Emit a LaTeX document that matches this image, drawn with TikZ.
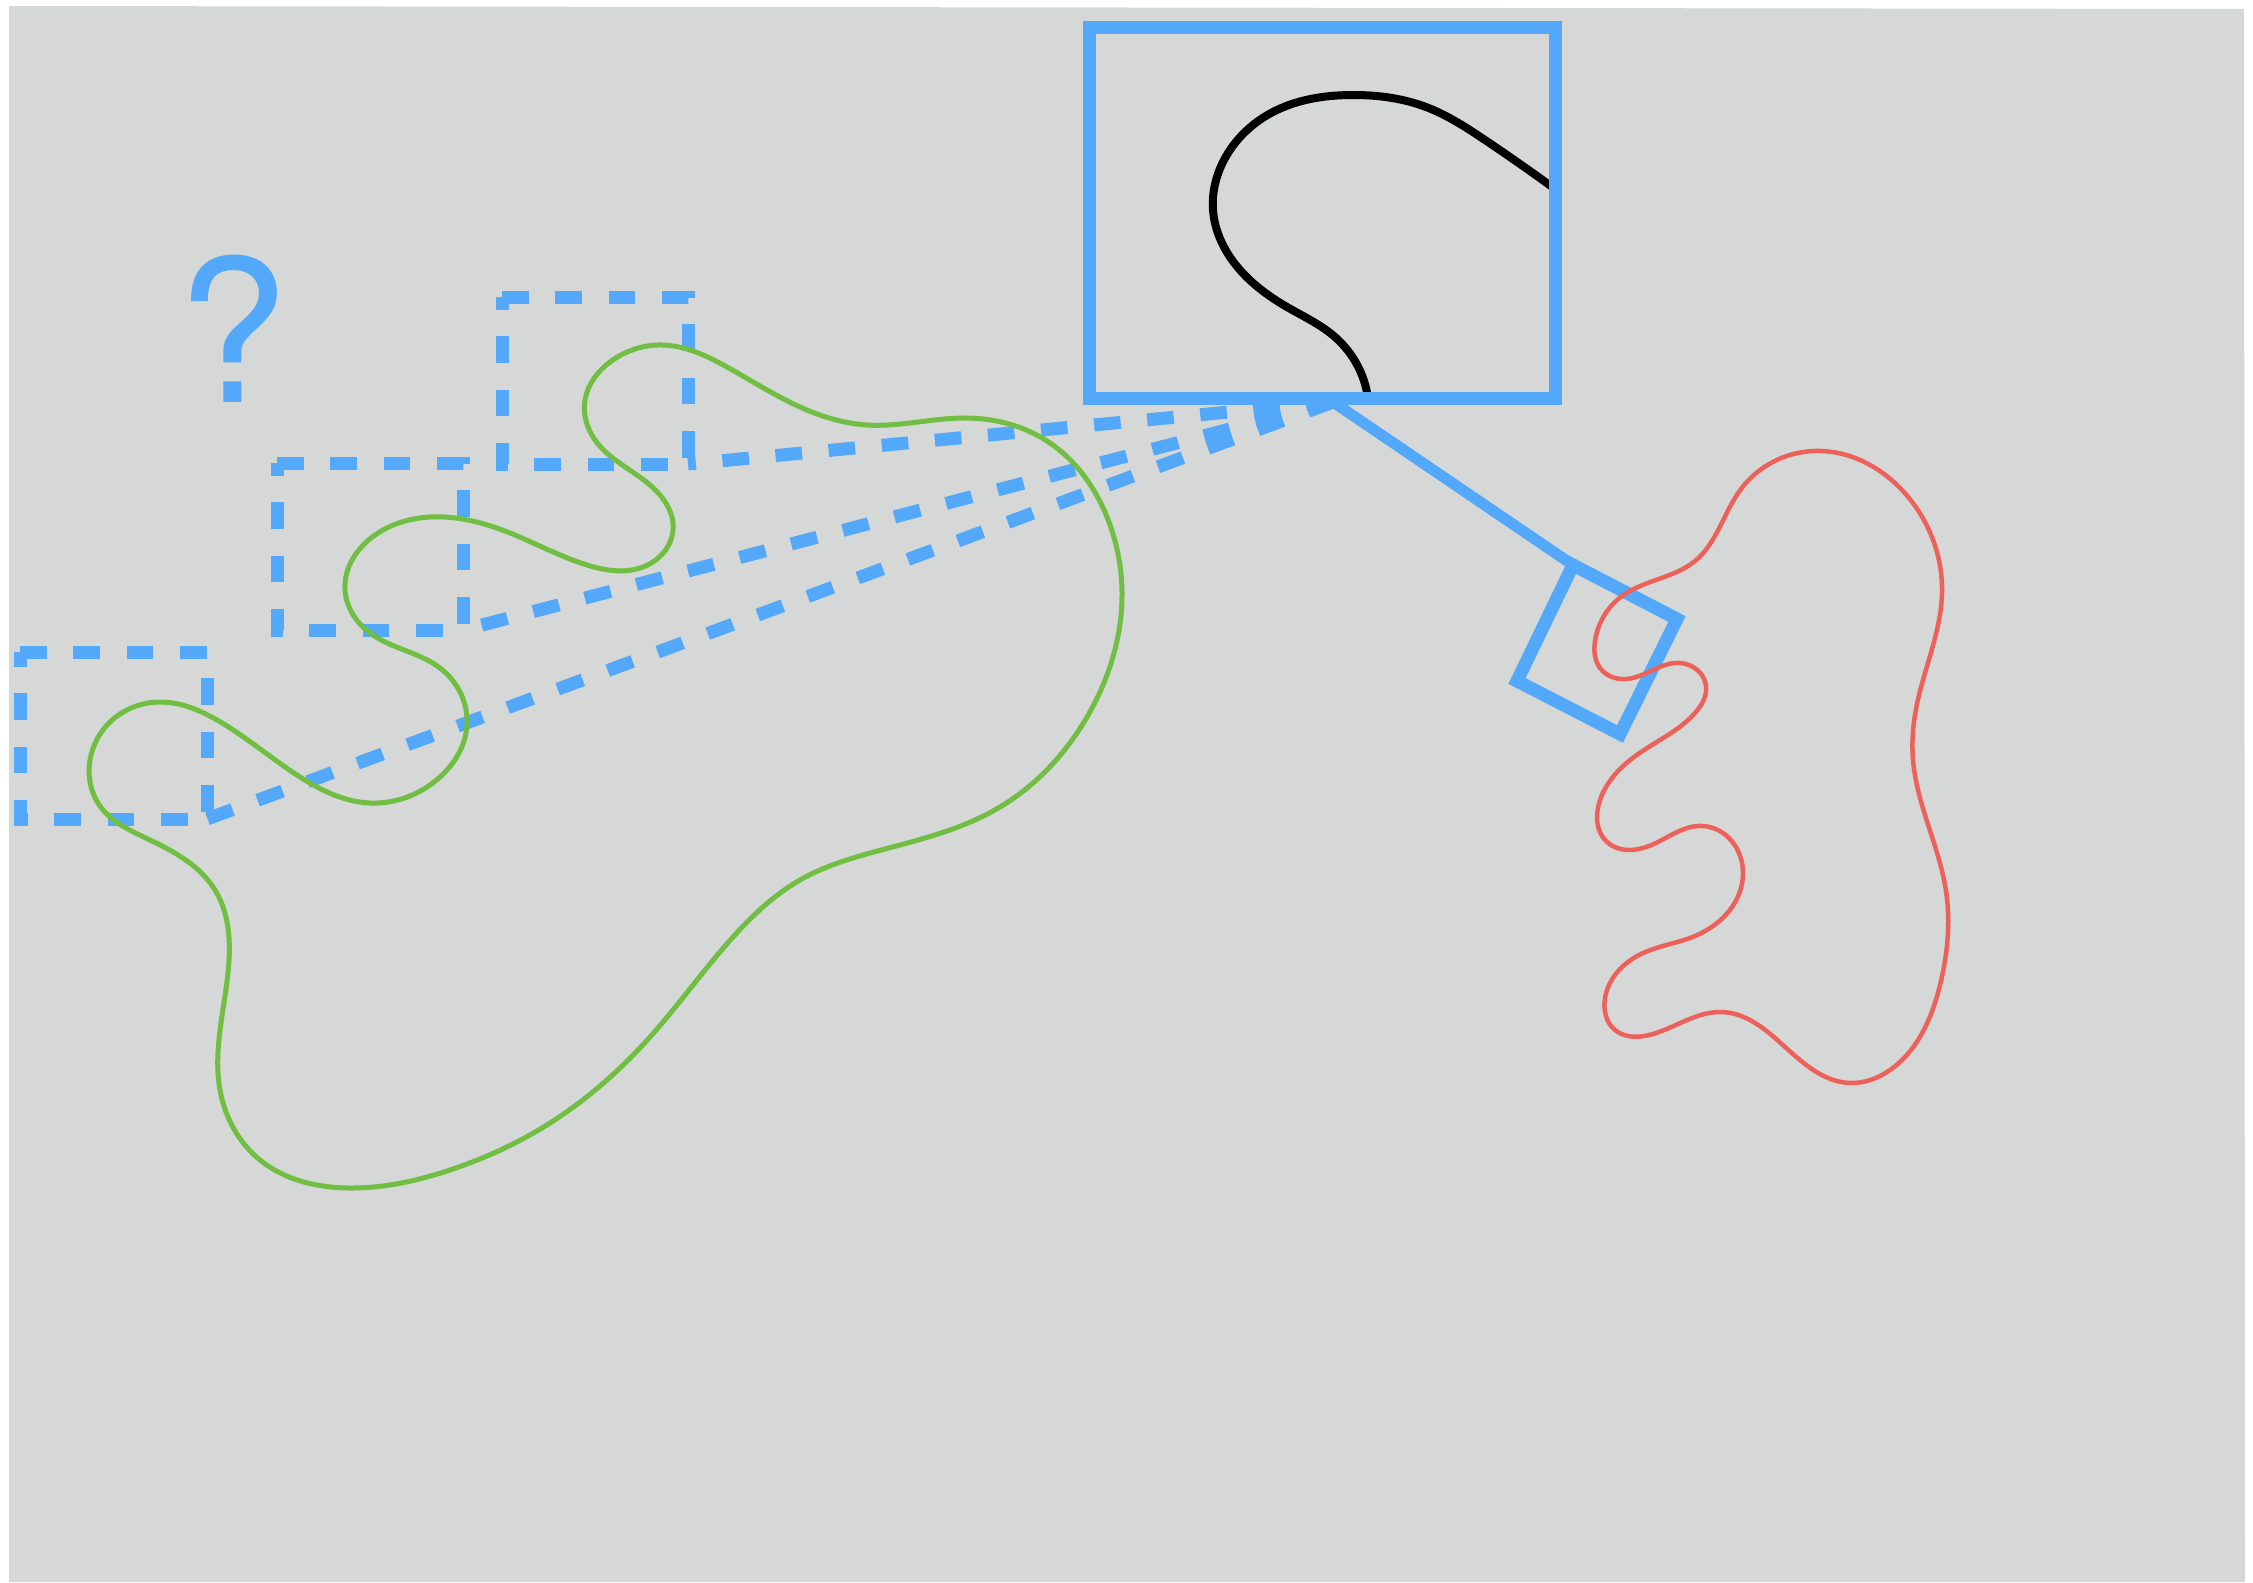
\documentclass[tikz,border=0pt]{standalone}
\usepackage{fontspec}
\setmainfont{TeX Gyre Heros}
\usetikzlibrary{hobby}
\definecolor{bggray}{RGB}{214,216,215}
\definecolor{zblue}{RGB}{84,168,250}
\definecolor{zgreen}{RGB}{112,190,66}
\definecolor{zred}{RGB}{236,98,90}
\begin{document}
\begin{tikzpicture}[x=1pt,y=-1pt,
  dashbox/.style={draw=zblue, line width=13pt, dash pattern=on 26.67pt off 26.67pt},
  viewbox/.style={draw=zblue, line width=13pt},
  connector/.style={draw=zblue, line width=11pt},
  greenblob/.style={draw=zgreen, line width=5pt},
  redblob/.style={draw=zred, line width=4.5pt},
  inkcurve/.style={draw=black, line width=8pt}]
\useasboundingbox (0,0) rectangle (2253,1582);
\fill[bggray] (9,6) -- (2244,9) -- (2245,1582) -- (9,1582) -- cycle;

% named points
\coordinate (apex) at (1333,402);
\coordinate (r1tl) at (502,297); \coordinate (r1tr) at (688,297);
\coordinate (r1br) at (688,464); \coordinate (r1bl) at (502,464);
\coordinate (r2tl) at (277,463); \coordinate (r2tr) at (463,463);
\coordinate (r2br) at (463,630); \coordinate (r2bl) at (277,630);
\coordinate (r3tl) at (20,652);  \coordinate (r3tr) at (207,652);
\coordinate (r3br) at (207,819); \coordinate (r3bl) at (20,819);
\coordinate (s1) at (1573,565); \coordinate (s2) at (1677,619);
\coordinate (s3) at (1620,734); \coordinate (s4) at (1517,681);

% dashed trail boxes and rays
\draw[dashbox] (r1tl) -- (r1tr) -- (r1br) -- (r1bl) -- (r1tl);
\draw[dashbox] (r2tl) -- (r2tr) -- (r2br) -- (r2bl) -- (r2tl);
\draw[dashbox] (r3tl) -- (r3tr) -- (r3br) -- (r3bl) -- (r3tl);
\draw[dashbox] (apex) -- (r1br);
\draw[dashbox] (apex) -- (r2br);
\draw[dashbox] (apex) -- (r3br);

% green blob
\draw[greenblob, use Hobby shortcut, closed=true]
(663,345) .. (727,367) .. (800,407) .. (867,425) .. (967,418) .. (1050,443)
.. (1107,517) .. (1122,592) .. (1087,717) .. (1000,807) .. (900,845)
.. (800,880) .. (733,937) .. (650,1037) .. (550,1123) .. (450,1170)
.. (350,1188) .. (260,1160) .. (220,1090) .. (228,973) .. (215,890)
.. (150,840) .. (100,806) .. (90,760) .. (110,722) .. (160,702)
.. (217,720) .. (300,777) .. (370,803) .. (440,777) .. (467,725)
.. (440,668) .. (370,633) .. (345,590) .. (375,535) .. (430,517)
.. (510,533) .. (587,565) .. (643,567) .. (673,530) .. (650,485)
.. (595,440) .. (585,400) .. (610,362);

% zoomed view
\draw[inkcurve, use Hobby shortcut]
(1368,398) .. (1335,337) .. (1287,307) .. (1240,270) .. (1213,210)
.. (1224,160) .. (1271,113) .. (1354,95) .. (1426,107) .. (1485,140) .. (1555,189);
\draw[viewbox] (1089,27) rectangle (1555,398);

% connector and lens
\draw[connector] (apex) -- (s1);
\draw[viewbox] (s1) -- (s2) -- (s3) -- (s4) -- cycle;

% red blob
\draw[redblob, use Hobby shortcut, closed=true]
(1595,641) .. (1622,596) .. (1695,561) .. (1741,489) .. (1814,451)
.. (1909,498) .. (1942,592) .. (1917,704) .. (1913,760) .. (1946,891)
.. (1940,985) .. (1890,1070) .. (1850,1083) .. (1775,1038) .. (1722,1012)
.. (1653,1034) .. (1615,1030) .. (1605,998) .. (1641,954) .. (1695,936)
.. (1743,873) .. (1703,826) .. (1649,846) .. (1607,842) .. (1600,800)
.. (1634,757) .. (1695,713) .. (1706,686) .. (1680,663) .. (1626,679)
.. (1600,668);

% question mark
\node[text=zblue, font=\fontsize{199}{199}\selectfont, anchor=base, inner sep=0pt] (q) at (233,402) {?};
\end{tikzpicture}
\end{document}
